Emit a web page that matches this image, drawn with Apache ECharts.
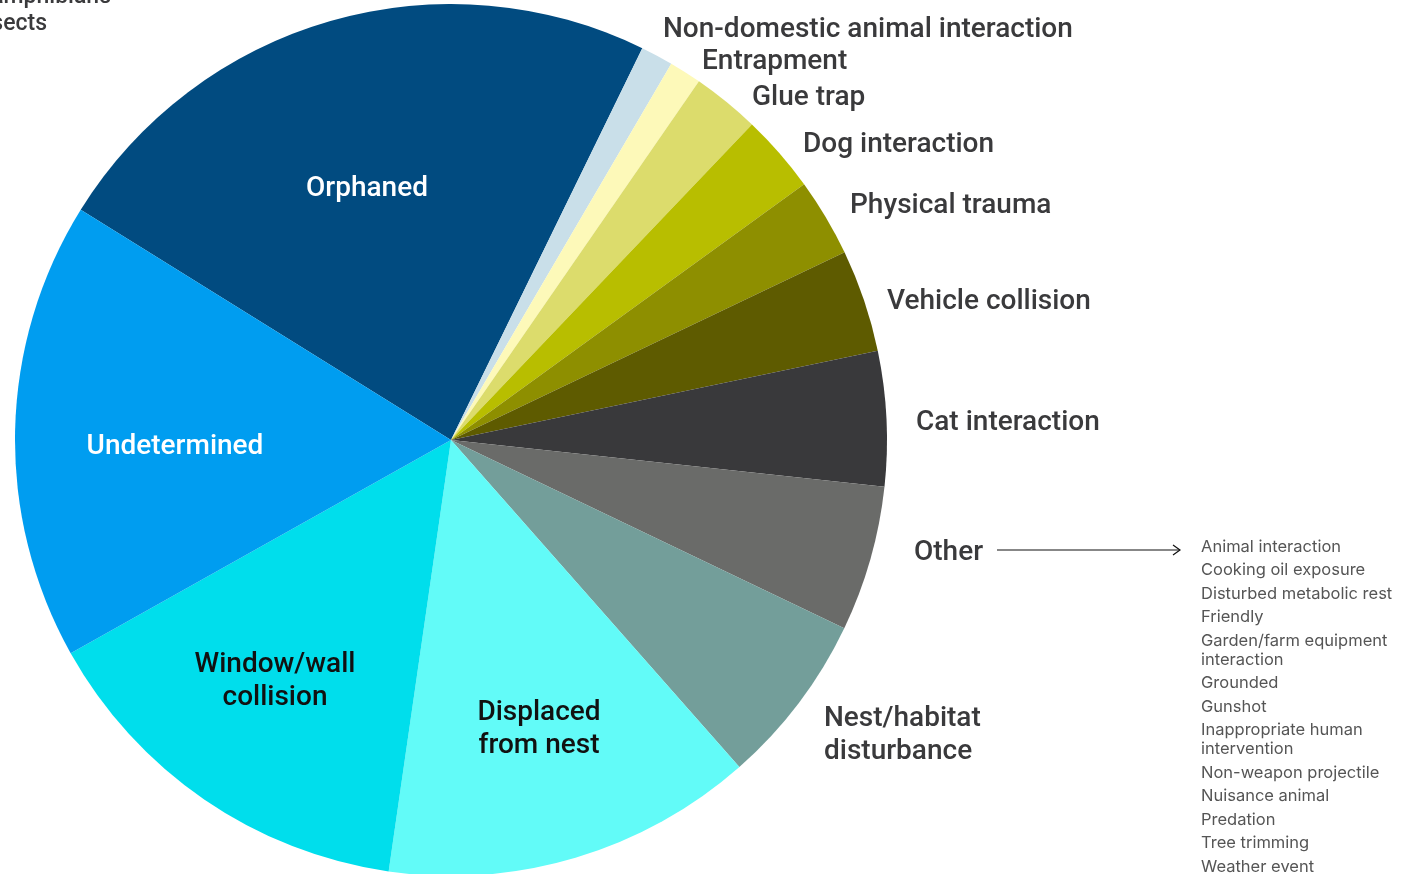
<!DOCTYPE html>
<html><head><meta charset="utf-8">
<script src="https://cdn.jsdelivr.net/npm/echarts@6/dist/echarts.min.js"></script>
<style>html,body{margin:0;padding:0;background:#fff}#c{width:1414px;height:874px}</style>
</head><body><div id="c"></div>
<script>
// ---- data ----
const categories = ['Orphaned','Non-domestic animal interaction','Entrapment','Glue trap','Dog interaction','Physical trauma','Vehicle collision','Cat interaction','Other','Nest/habitat disturbance','Displaced from nest','Window/wall collision','Undetermined'];
const shares = [23.4, 1.2, 1.2, 2.5, 2.9, 2.9, 3.8, 5.0, 5.4, 6.4, 13.8, 14.6, 17.0];
const labelTexts = ['Orphaned','Non-domestic animal interaction','Entrapment','Glue trap','Dog interaction','Physical trauma','Vehicle collision','Cat interaction','Other','Nest/habitat\ndisturbance','Displaced\nfrom nest','Window/wall\ncollision','Undetermined'];
const otherCauses = ['Animal interaction','Cooking oil exposure','Disturbed metabolic rest','Friendly','Garden/farm equipment\ninteraction','Grounded','Gunshot','Inappropriate human\nintervention','Non-weapon projectile','Nuisance animal','Predation','Tree trimming','Weather event'];
const cutOffText = ['amphibians','insects'];

// ---- styles / placement ----
const colors = ['#014b80','#c9dfe9','#fdf9b9','#dcdc6c','#b8be00','#8e8f00','#5e5b00','#39393b','#6a6b69','#739e9a','#62fbf8','#00deec','#009df0'];
const insideLabelColor = {0:'#ffffff', 10:'#111111', 11:'#111111', 12:'#ffffff'};
// label anchors: outside = [left x, middle y], inside = [center x, middle y]
const outsideLabelAnchor = {1:[663,30], 2:[702,62], 3:[752,98], 4:[803,145], 5:[850,206], 6:[887,302], 7:[916,423], 8:[914,553], 9:[824,735]};
const insideLabelAnchor = {0:[367,189], 10:[539,729], 11:[275,681], 12:[175,447]};
const CX = 451, CY = 440;
const font = 'Roboto, "Noto Sans", sans-serif';

const chart = echarts.init(document.getElementById('c'));

const mainData = categories.map((n, i) => ({
  name: n, value: shares[i],
  itemStyle: { color: colors[i] },
  label: { color: insideLabelColor[i] || '#3a3a3c' }
}));

const graphics = [];
graphics.push({ type: 'line', shape: { x1: 997, y1: 550, x2: 1180, y2: 550 }, style: { stroke: '#111', lineWidth: 1.2 } });
graphics.push({ type: 'polyline', shape: { points: [[1173, 545], [1180, 550], [1173, 555]] }, style: { stroke: '#111', lineWidth: 1.2, fill: null } });
let y = 547;
otherCauses.forEach(t => {
  const lines = t.split('\n');
  lines.forEach((ln, k) => {
    graphics.push({ type: 'text', x: 1201, y: y, style: { text: ln, fill: '#555555', font: '400 16.5px Inter, Roboto, sans-serif', textVerticalAlign: 'middle', textAlign: 'left' } });
    y += (k < lines.length - 1) ? 19 : 23.5;
  });
});
const cutRight = [111, 47];
cutOffText.forEach((t, i) => {
  graphics.push({ type: 'text', x: cutRight[i], y: -3 + i * 27, style: { text: t, fill: '#3a3a3c', font: '500 23px Roboto, sans-serif', textVerticalAlign: 'middle', textAlign: 'right' } });
});

chart.setOption({
  animation: false,
  backgroundColor: '#ffffff',
  graphic: graphics,
  series: [
    {
      type: 'pie',
      center: [CX, CY],
      radius: [0, 436],
      startAngle: 148.13,
      clockwise: true,
      avoidLabelOverlap: false,
      emphasis: { disabled: true },
      itemStyle: { borderWidth: 0 },
      label: {
        position: 'outside',
        alignTo: 'none',
        fontFamily: font,
        fontSize: 28,
        fontWeight: 500,
        lineHeight: 33,
        formatter: p => labelTexts[p.dataIndex]
      },
      labelLine: { show: false, length: 24, length2: 0 },
      labelLayout: p => {
        const o = outsideLabelAnchor[p.dataIndex];
        if (o) return { x: o[0], y: o[1], align: 'left', verticalAlign: 'middle' };
        const c = insideLabelAnchor[p.dataIndex];
        if (c) return { x: c[0], y: c[1], align: 'center', verticalAlign: 'middle' };
        return {};
      },
      data: mainData
    }
  ]
});
</script>
</body></html>
